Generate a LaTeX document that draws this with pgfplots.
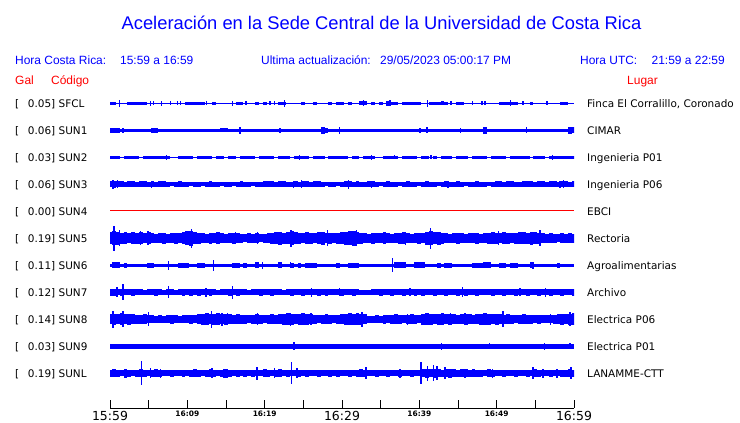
\documentclass[border=0pt]{standalone}
\usepackage{pgfplots}
\pgfplotsset{compat=1.18}
\usepackage{fontspec}
\setmainfont{Liberation Sans}
\newfontfamily\dejavu{DejaVu Sans}
\definecolor{sblue}{RGB}{0,0,255}
\definecolor{sred}{RGB}{255,0,0}
\newcommand\bigt[1]{\mbox{\dejavu\fontsize{12.5}{14}\selectfont #1}}
\newcommand\smt[1]{\mbox{\dejavu\bfseries\fontsize{7.5}{9}\selectfont #1}}
\pgfplotsset{
  bars/.style={draw=none, mark=none,
    /pgfplots/error bars/y dir=both,
    /pgfplots/error bars/y explicit,
    /pgfplots/error bars/error mark=none,
    /pgfplots/error bars/error bar style={draw=sblue, line width=3.9bp}},
  spk/.style={draw=none, mark=none,
    /pgfplots/error bars/y dir=both,
    /pgfplots/error bars/y explicit,
    /pgfplots/error bars/error mark=none,
    /pgfplots/error bars/error bar style={draw=sblue, line width=1.3bp}},
  base/.style={draw=sblue, line width=#1, mark=none},
}
\begin{document}
\begin{tikzpicture}
\useasboundingbox (0,0) rectangle (740bp,423bp);
\begin{axis}[at={(110bp,15bp)}, anchor=south west,
  width=464bp, height=318bp, scale only axis,
  xmin=0, xmax=60, ymin=-408, ymax=-90,
  axis x line=bottom, axis y line=none,
  x axis line style={-, black, line width=1bp},
  xtick={0,5,...,60},
  xticklabels={\bigt{15:59},,\smt{16:09},,\smt{16:19},,\bigt{16:29},,\smt{16:39},,\smt{16:49},,\bigt{16:59}},
  tick align=inside, major tick length=8bp,
  tick style={black, line width=1bp},
  xticklabel style={inner sep=0pt, anchor=north, yshift=-3bp},
  ytick=\empty]

% ---------- SFCL ----------
\addplot[base=1.2bp] coordinates {(0,-103.5) (60,-103.5)};
\addplot[bars] table[row sep=\\, x=t, y expr=-103.5, y error=a] {t a\\
0 1.5\\ 0.5 1.5\\ 2.5 1.5\\ 3 1.5\\ 3.5 1.5\\ 4 1.5\\ 4.5 1.5\\ 10 1.5\\ 10.5 1.5\\ 11 1.5\\ 11.5 1.5\\ 12 1.5\\ 13.5 1.5\\
16.5 1.5\\ 17 1.5\\ 19 1.5\\ 20 1.5\\ 22 1.5\\ 22.5 1.5\\ 25 1.5\\ 26.5 1.5\\ 28.5 1.5\\ 29.5 1.5\\ 30 1.5\\ 31 1.5\\
32.5 2\\ 33 2\\ 34 1.5\\ 35 1.5\\ 36 2.5\\ 36.5 1.5\\ 37 1.5\\ 38 1.5\\ 38.5 1.5\\ 39 1.5\\ 39.5 1.5\\ 40 1.5\\
41.5 1.5\\ 42 1.5\\ 42.5 1.5\\ 43 2\\ 43.5 1.5\\ 45 1.5\\ 45.5 1.5\\ 50.5 1.5\\ 51 1.5\\ 51.5 1.5\\ 52 1.5\\ 52.5 1.5\\
54.5 1.5\\ 58.5 1.5\\ 59 1.5\\};
\addplot[spk] table[row sep=\\, x=t, y expr=-103.5, y error=a] {t a\\
1.2 3.5\\ 5.2 2.5\\ 5.6 2\\ 6.7 2.5\\ 7.8 2\\ 8.7 2\\ 9.1 2\\ 12.5 2\\ 15.8 2.5\\ 17.6 2\\ 20.7 2\\ 21.3 2\\ 22.6 3.5\\
32.8 3\\ 36.2 3\\ 41.1 3.5\\ 44.1 2\\ 46.9 2\\ 48.1 2\\ 48.5 2\\ 51.8 3\\ 53.4 2\\ 56.5 2\\};

% ---------- SUN1 ----------
\addplot[base=3.8bp] coordinates {(0,-130.5) (60,-130.5)};
\addplot[bars] table[row sep=\\, x=t, y expr=-130.5, y error=a] {t a\\
0 2.5\\ 0.5 2.5\\ 1 2.5\\ 5.5 2.5\\ 6 2.5\\ 14.5 2\\ 15 2\\ 27.5 3.5\\ 28 2.5\\ 48.5 3.5\\ 59.5 3.5\\ 60 3\\};
\addplot[spk] table[row sep=\\, x=t, y expr=-130.5, y error=a] {t a\\
1.7 2.5\\ 16.8 3.5\\ 22 2.5\\ 29.7 3.5\\ 40.1 2.5\\ 41 3\\ 45.3 2.5\\ 53.9 3\\};

% ---------- SUN2 ----------
\addplot[base=1.2bp] coordinates {(0,-157.5) (60,-157.5)};
\addplot[bars] table[row sep=\\, x expr=\coordindex*0.5, y expr=-157.5, y error=a] {a\\
1.5\\ 1.5\\ 1.5\\ 0\\ 1.5\\ 1.5\\ 1.5\\ 1.5\\ 0\\ 1.5\\ 1.5\\ 1.5\\ 1.5\\ 1.5\\ 1.5\\ 1.5\\ 0\\ 0\\ 1.5\\ 1.5\\ 1.5\\
1.5\\ 0\\ 1.5\\ 1.5\\ 1.5\\ 1.5\\ 0\\ 1.5\\ 1.5\\ 0\\ 1.5\\ 1.5\\ 0\\ 1.5\\ 1.5\\ 1.5\\ 1.5\\ 0\\ 1.5\\ 1.5\\
1.5\\ 1.5\\ 0\\ 1.5\\ 1.5\\ 1.5\\ 0\\ 1.5\\ 1.5\\ 1.5\\ 1.5\\ 0\\ 1.5\\ 1.5\\ 1.5\\ 0\\ 1.5\\ 1.5\\ 1.5\\ 1.5\\
1.5\\ 0\\ 1.5\\ 1.5\\ 0\\ 1.5\\ 1.5\\ 1.5\\ 0\\ 0\\ 1.5\\ 1.5\\ 1.5\\ 1.5\\ 0\\ 1.5\\ 1.5\\ 1.5\\ 1.5\\ 0\\
1.5\\ 1.5\\ 0\\ 1.5\\ 0\\ 1.5\\ 1.5\\ 1.5\\ 0\\ 1.5\\ 1.5\\ 1.5\\ 0\\ 1.5\\ 1.5\\ 1.5\\ 1.5\\ 0\\ 1.5\\ 1.5\\
1.5\\ 1.5\\ 0\\ 1.5\\ 1.5\\ 1.5\\ 1.5\\ 1.5\\ 0\\ 1.5\\ 1.5\\ 1.5\\ 0\\ 1.5\\ 1.5\\ 1.5\\ 1.5\\ 1.5\\ 1.5\\ 1.5\\};
\addplot[spk] table[row sep=\\, x=t, y expr=-157.5, y error=a] {t a\\
7.3 2.5\\ 24.5 2.5\\ 33.8 2.5\\ 36.8 2\\ 41.5 2\\ 57.2 2.5\\};

% ---------- SUN3 ----------
\addplot[base=4bp] coordinates {(0,-184.5) (60,-184.5)};
\addplot[bars] table[row sep=\\, x expr=\coordindex*0.5, y expr=-184.5, y error=a] {a\\
3\\ 3.5\\ 3\\ 3\\ 2.5\\ 3\\ 3\\ 2.5\\ 3\\ 3\\ 2.5\\ 3\\ 2.5\\ 3\\ 3\\ 2.5\\ 2\\ 2.5\\ 3\\ 2.5\\ 2.5\\
2\\ 2.5\\ 2.5\\ 2\\ 2.5\\ 3\\ 2.5\\ 2.5\\ 2\\ 2.5\\ 2.5\\ 2\\ 2.5\\ 3\\ 2.5\\ 2.5\\ 2\\ 2.5\\ 2.5\\ 3\\
3\\ 3\\ 2.5\\ 3\\ 3\\ 2.5\\ 2.5\\ 3\\ 2.5\\ 3\\ 3\\ 2.5\\ 3\\ 3\\ 2.5\\ 2\\ 2.5\\ 2.5\\ 2\\ 2.5\\
3\\ 3\\ 2.5\\ 3\\ 2.5\\ 2.5\\ 3\\ 3\\ 2.5\\ 2\\ 2.5\\ 3\\ 2.5\\ 2.5\\ 2\\ 2.5\\ 3\\ 2.5\\ 2.5\\ 2\\
2.5\\ 3\\ 2.5\\ 2.5\\ 2\\ 2.5\\ 3\\ 2.5\\ 2.5\\ 3\\ 2.5\\ 2\\ 2.5\\ 2.5\\ 3\\ 2.5\\ 2.5\\ 2\\ 2.5\\ 3\\
3\\ 2.5\\ 3\\ 3\\ 2.5\\ 2.5\\ 3\\ 3\\ 3\\ 2.5\\ 3\\ 3\\ 2.5\\ 3\\ 3\\ 2.5\\ 3\\ 3\\ 2.5\\ 3\\};
\addplot[spk] table[row sep=\\, x=t, y expr=-184.5, y error=a] {t a\\
0.4 4.5\\ 1.0 4\\ 5.4 3.5\\ 23.7 3.5\\ 24.8 4\\ 30.8 4.5\\ 33.8 3.5\\ 43.7 3.5\\ 58.2 3.5\\ 58.6 4\\};

% ---------- SUN4 ----------
\addplot[draw=sred, line width=1bp, mark=none] coordinates {(0,-211) (60,-211)};

% ---------- SUN5 ----------
\addplot[base=8bp] coordinates {(0,-238.5) (60,-238.5)};
\addplot[bars] table[row sep=\\, x expr=\coordindex*0.5, y expr=-238.5, y error=a] {a\\
6\\ 7\\ 6.5\\ 5.5\\ 6\\ 5\\ 6\\ 5.5\\ 6\\
5\\ 6\\ 5\\ 4.5\\ 5\\ 5.5\\ 4.5\\ 5\\ 5.5\\ 5\\
6\\ 7\\ 7.5\\ 6\\ 5.5\\
5\\ 4.5\\ 5.5\\ 5\\ 6\\ 5\\ 4.5\\ 5\\ 5.5\\ 5\\
4.5\\ 4\\ 5\\ 4.5\\ 5\\ 4\\ 4.5\\ 5\\
5.5\\ 6\\ 6.5\\ 5.5\\ 6\\ 7\\ 6\\ 5.5\\
5\\ 6\\ 5.5\\ 5\\ 6\\ 6.5\\ 5\\ 5.5\\ 5\\ 5.5\\
6\\ 6.5\\ 7\\ 7.5\\ 6\\ 5.5\\
5\\ 4.5\\ 5.5\\ 5\\ 5\\ 6\\ 5\\ 4.5\\ 5\\ 5.5\\ 6\\ 5\\ 4.5\\ 5\\ 5.5\\ 5\\
6.5\\ 7\\ 6\\ 6.5\\ 5.5\\
5\\ 4.5\\ 5\\ 5.5\\ 5\\ 4.5\\ 5\\ 5\\ 5.5\\ 4.5\\ 5\\
5.5\\ 6\\ 5.5\\ 5\\ 6\\ 5.5\\ 5\\ 5.5\\ 6\\
6\\ 5.5\\ 6.5\\ 6\\ 5.5\\ 5\\
4.5\\ 5\\ 4.5\\ 4\\ 5\\ 4.5\\ 5\\ 4.5\\};
\addplot[spk] table[row sep=\\, x=t, y expr=-238.5, y error=a] {t a\\
0.5 12.3\\ 1.2 8\\ 3.9 7\\ 4.9 7\\ 10.5 9.5\\ 16.2 6\\ 19.1 6\\ 23.4 8.5\\ 28.1 8\\ 31.9 8\\
38.2 6.5\\ 41.4 10.5\\ 44.9 5.5\\ 50.2 7\\ 55.6 8\\};

% ---------- SUN6 ----------
\addplot[base=3.5bp] coordinates {(0,-265.5) (60,-265.5)};
\addplot[bars] table[row sep=\\, x=t, y expr=-265.5, y error=a] {t a\\
0.5 3\\ 1 3\\ 2 2.5\\ 5 2.5\\ 5.5 2.5\\ 9 2.5\\ 9.5 2.5\\ 10 2.5\\ 11.5 2.5\\ 12 2.5\\ 16 2.5\\ 16.5 2.5\\ 17.5 2.5\\
19 3\\ 22 3\\ 23.5 2.5\\ 24.5 2.5\\ 25.5 2.5\\ 26 2.5\\ 26.5 2.5\\ 29.5 2.5\\ 31 2.5\\ 31.5 2.5\\ 32 2.5\\
37 3\\ 37.5 3\\ 38 3\\ 39.5 3\\ 40 3\\ 40.5 3\\ 42.5 2.5\\ 43.5 2.5\\ 44 2.5\\ 47 2.5\\ 47.5 2.5\\ 48 2.5\\ 48.5 3\\ 49 3\\
50.5 2.5\\ 51 2.5\\ 52 2.5\\ 52.5 2.5\\ 54.5 3\\ 58 2.5\\};
\addplot[spk] table[row sep=\\, x=t, y expr=-265.5, y error=a] {t a\\
7.6 4.5\\ 13.4 5.5\\ 19.7 3.5\\ 23.3 3\\ 36.5 7\\ 54.7 3.5\\};

% ---------- SUN7 ----------
\addplot[base=5bp] coordinates {(0,-292.5) (60,-292.5)};
\addplot[bars] table[row sep=\\, x expr=\coordindex*0.5, y expr=-292.5, y error=a] {a\\
3.5\\ 3.5\\ 3\\ 3.5\\ 3\\ 3\\ 3.5\\ 3\\ 3\\ 2.5\\ 3\\ 3\\ 3.5\\ 3\\ 2.5\\ 3\\ 3\\ 2.5\\ 3\\ 3.5\\ 3\\
3.5\\ 3\\ 3.5\\ 3\\ 3\\ 3.5\\ 3\\ 2.5\\ 3\\ 3\\ 3.5\\ 3\\ 3.5\\ 3\\ 3\\ 2.5\\ 3\\ 3\\ 3.5\\ 3\\
3\\ 3.5\\ 3\\ 3\\ 2.5\\ 3\\ 3.5\\ 3\\ 3\\ 3.5\\ 3\\ 3\\ 3\\ 3.5\\ 3\\ 3.5\\ 3\\ 3\\ 3\\ 3.5\\
3\\ 3\\ 3.5\\ 3\\ 2.5\\ 2.5\\ 2.5\\ 3\\ 3\\ 3.5\\ 3\\ 3\\ 3.5\\ 3\\ 3\\ 3.5\\ 3\\ 3\\ 3.5\\ 3\\
3.5\\ 3\\ 3\\ 3.5\\ 3\\ 3\\ 3.5\\ 3\\ 3\\ 3.5\\ 3\\ 3.5\\ 3\\ 3\\ 3.5\\ 3\\ 3\\ 3\\ 3.5\\ 3\\
3\\ 3.5\\ 3\\ 3\\ 3.5\\ 3\\ 3\\ 3.5\\ 3\\ 3\\ 3.5\\ 3\\ 3\\ 3.5\\ 3\\ 3\\ 3.5\\ 3\\ 3\\ 3.5\\};
\addplot[spk] table[row sep=\\, x=t, y expr=-292.5, y error=a] {t a\\
0.9 5\\ 1.7 8\\ 7.6 6\\ 12.4 4.5\\ 15.8 6.5\\ 26.1 4.5\\ 29.7 4\\ 38.8 4\\ 45.6 5\\ 53 4\\ 56.3 4.5\\};

% ---------- SUN8 ----------
\addplot[base=7bp] coordinates {(0,-319.5) (60,-319.5)};
\addplot[bars] table[row sep=\\, x expr=\coordindex*0.5, y expr=-319.5, y error=a] {a\\
5\\ 5.5\\ 5\\ 6\\ 5\\ 5.5\\ 5\\ 4.5\\
4.5\\ 5\\ 4\\ 4\\ 3.5\\
4\\ 3.5\\ 4\\ 4.5\\ 4\\ 3.5\\ 4\\ 4\\ 4.5\\ 4\\
5\\ 5.5\\ 6\\ 5\\ 5.5\\ 6\\ 5\\ 5.5\\ 5\\ 4.5\\ 5\\ 4.5\\
4.5\\ 4\\ 4.5\\ 5\\ 4.5\\ 4\\ 4.5\\ 5\\ 4.5\\
5\\ 5.5\\ 6\\ 5.5\\ 5\\ 5.5\\ 6\\ 5.5\\ 5\\
4.5\\ 4\\ 4.5\\ 5\\ 4.5\\ 4\\ 4.5\\
5\\ 5.5\\ 6\\ 5.5\\ 6\\ 5.5\\ 5\\
3.5\\ 3.5\\ 4\\ 3.5\\
4.5\\ 4\\ 4.5\\ 5\\ 4.5\\ 4\\ 4.5\\ 5\\ 4.5\\ 4\\
5.5\\ 6\\ 5.5\\ 5\\ 5.5\\ 6\\
5\\ 5.5\\ 5\\ 4.5\\ 5\\ 5.5\\ 5\\ 4.5\\ 5\\
5.5\\ 6\\ 5.5\\ 5\\ 5.5\\ 5\\
4.5\\ 5\\ 4.5\\ 4\\ 4.5\\ 5\\ 4.5\\
4.5\\ 4\\ 4.5\\ 4\\ 4\\
4\\ 4.5\\ 5\\ 5.5\\ 5\\ 5.5\\ 6\\};
\addplot[spk] table[row sep=\\, x=t, y expr=-319.5, y error=a] {t a\\
0.4 8.5\\ 1.7 8\\ 5.0 7\\ 13.1 8.7\\ 14.5 6.5\\ 15.2 6\\ 19.1 6\\ 23.3 6.5\\ 26 6\\ 32.6 7.5\\
38.5 5.5\\ 44 6\\ 45.9 6\\ 50.8 8\\ 57 5.5\\ 59.5 7\\};

% ---------- SUN9 ----------
\addplot[base=4.2bp] coordinates {(0,-346.5) (60,-346.5)};
\addplot[spk] table[row sep=\\, x=t, y expr=-346.5, y error=a] {t a\\
0.2 2.7\\ 0.4 2.7\\ 18.8 2.5\\ 23.8 4\\ 33.8 2.5\\ 42.9 3.5\\ 49.1 3\\ 56.2 3.5\\ 57.2 2.5\\ 59.5 3\\};

% ---------- SUNL ----------
\addplot[base=5bp] coordinates {(0,-373.5) (60,-373.5)};
\addplot[bars] table[row sep=\\, x expr=\coordindex*0.5, y expr=-373.5, y error=a] {a\\
3.5\\ 4\\ 3.5\\ 3\\ 4.5\\ 3.5\\ 3\\ 3.5\\ 4\\
3.5\\ 3\\ 3.5\\ 4\\ 3.5\\ 3\\ 3\\ 3.5\\ 3\\ 3\\
3.5\\ 3\\ 3.5\\ 4\\ 3.5\\ 3\\ 3.5\\ 4\\ 3.5\\ 3\\ 3.5\\ 4.5\\ 3.5\\ 3\\ 3.5\\ 3\\
3.5\\ 3\\ 3.5\\ 3\\ 3\\ 4\\ 3.5\\ 3\\ 3.5\\ 4\\ 3\\ 3.5\\ 3\\ 3\\ 3.5\\ 3\\ 3.5\\ 3\\ 3\\ 3.5\\ 3\\ 3\\ 3.5\\ 3\\ 3.5\\ 3\\
3\\ 3.5\\ 3\\ 3.5\\ 4\\ 3.5\\ 3\\ 3\\ 3.5\\ 3\\ 3\\ 3.5\\ 3\\ 3\\ 3.5\\ 3\\ 3\\ 3.5\\ 3\\ 3\\
4\\ 4.5\\ 4\\ 4.5\\ 4\\ 3.5\\ 4\\ 4.5\\ 4\\ 3.5\\ 4\\ 4\\ 3.5\\ 4\\ 3.5\\
3.5\\ 3\\ 4\\ 3.5\\ 3\\ 3\\ 3.5\\ 3\\ 3\\ 3.5\\ 3\\ 3\\ 3.5\\ 3\\ 4\\ 3.5\\ 3\\ 3\\ 3.5\\ 3\\ 3\\ 3.5\\ 3.5\\ 4\\ 3.5\\};
\addplot[spk] table[row sep=\\, x=t, y expr=-373.5, y error=a] {t a\\
4.1 12\\ 5.2 5\\ 6.5 4.5\\ 13.2 5\\ 14.7 4.5\\ 19 6.5\\ 21.3 5\\ 23.5 11\\ 24.2 5\\ 33.1 6\\ 37.5 4.5\\
40.2 11\\ 41.1 7.5\\ 41.8 8\\ 42.3 7\\ 43.3 6\\ 45.9 4.5\\ 49.5 4.5\\ 54.7 6\\ 56 4.5\\ 57.8 4.5\\ 59.6 6\\};
\end{axis}

% ---------- texts ----------
\node[anchor=base, text=sblue, font=\fontsize{18.4}{20}\selectfont] at (381.5bp,393bp)
  {Aceleración en la Sede Central de la Universidad de Costa Rica};
\begin{scope}[every node/.style={inner sep=0pt, text=sblue, font=\fontsize{12}{14}\selectfont}]
\node[anchor=base west] at (15bp,358bp) {Hora Costa Rica:};
\node[anchor=base west] at (120bp,358bp) {15:59 a 16:59};
\node[anchor=base west] at (261bp,358bp) {Ultima actualización:};
\node[anchor=base west] at (380bp,358bp) {29/05/2023 05:00:17 PM};
\node[anchor=base west] at (580bp,358bp) {Hora UTC:};
\node[anchor=base east] at (725bp,358bp) {21:59 a 22:59};
\node[anchor=base west, text=sred] at (15bp,338bp) {Gal};
\node[anchor=base west, text=sred] at (51bp,338bp) {Código};
\node[anchor=base west, text=sred] at (627bp,338bp) {Lugar};
\end{scope}
\begin{scope}[every node/.style={inner sep=0pt, text=black, font=\dejavu\fontsize{10.5}{12}\selectfont}]
\foreach \k/\v/\c/\n in {0/0.05/SFCL/{Finca El Corralillo, Coronado},1/0.06/SUN1/CIMAR,2/0.03/SUN2/Ingenieria P01,3/0.06/SUN3/Ingenieria P06,4/0.00/SUN4/EBCI,5/0.19/SUN5/Rectoria,6/0.11/SUN6/Agroalimentarias,7/0.12/SUN7/Archivo,8/0.14/SUN8/Electrica P06,9/0.03/SUN9/Electrica P01,10/0.19/SUNL/LANAMME-CTT}{
  \pgfmathsetmacro\yy{423-107.5-27*\k}
  \node[anchor=base west] at (15bp,\yy bp) {[};
  \node[anchor=base east] at (55.5bp,\yy bp) {\v]};
  \node[anchor=base west] at (58.5bp,\yy bp) {\c};
  \node[anchor=base west] at (587bp,\yy bp) {\n};
}
\end{scope}
\end{tikzpicture}
\end{document}
